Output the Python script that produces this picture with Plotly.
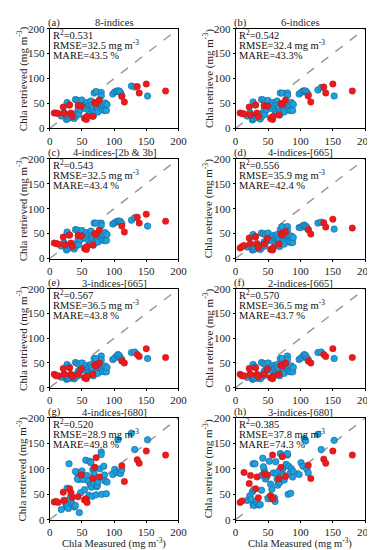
import plotly.graph_objects as go

W, H = 375, 550

# ---------------- data ----------------
blue_x = [18, 22, 24, 26, 27, 28, 29, 27, 30, 32, 34, 36, 38, 40, 42, 44, 45, 40, 43, 46,
          48, 50, 52, 54, 56, 58, 60, 61, 62, 63, 64, 65, 66, 67, 68, 69, 70, 72, 73, 74,
          75, 78, 80, 80, 81, 82, 84, 85, 86, 88, 89, 98, 101, 104, 106, 108, 110, 112, 127, 132,
          152]
red_x = [7, 10, 13, 21, 23, 31, 33, 35, 44, 49, 54, 56, 57, 58, 67, 70, 72, 77, 112, 116,
         136, 139, 150, 180]

blue_a = [25, 32, 28, 18, 22, 20, 25, 52, 47, 22, 27, 25, 20, 24, 30, 37, 28, 58, 56, 52,
          38, 57, 43, 47, 40, 52, 45, 35, 48, 29, 55, 46, 38, 42, 26, 71, 34, 74, 45, 38,
          33, 50, 72, 65, 42, 38, 48, 36, 51, 36, 48, 69, 73, 75, 75, 75, 72, 66, 85, 83,
          65]
red_a = [31, 31, 30, 43, 30, 47, 31, 24, 46, 45, 20, 22, 18, 24, 24, 52, 50, 57, 64, 53,
         84, 71, 89, 75]

blue_b = [25, 32, 28, 17, 22, 20, 26, 53, 47, 22, 27, 25, 19, 24, 30, 37, 28, 58, 57, 52,
          38, 56, 43, 47, 40, 52, 45, 35, 49, 29, 55, 46, 38, 42, 27, 71, 34, 71, 45, 38,
          33, 50, 71, 66, 42, 37, 48, 36, 52, 36, 48, 69, 72, 75, 75, 75, 72, 68, 77, 82,
          65]
red_b = [31, 30, 29, 43, 27, 47, 31, 24, 46, 45, 20, 22, 18, 24, 27, 50, 48, 57, 65, 53,
         83, 71, 89, 75]

blue_c = [25, 32, 28, 17, 22, 20, 26, 53, 47, 22, 27, 25, 19, 24, 30, 37, 28, 58, 57, 52,
          38, 56, 43, 47, 40, 52, 45, 35, 49, 29, 55, 46, 38, 42, 27, 71, 34, 71, 45, 38,
          33, 50, 71, 66, 42, 37, 48, 36, 52, 36, 48, 69, 72, 74, 75, 75, 74, 70, 77, 82,
          65]
red_c = [31, 30, 29, 43, 27, 47, 31, 24, 46, 45, 20, 22, 18, 24, 27, 50, 48, 57, 65, 53,
         83, 71, 89, 75]

blue_d = [23, 28, 24, 17, 20, 18, 22, 48, 43, 20, 25, 22, 18, 22, 27, 33, 25, 51, 50, 47,
          34, 51, 38, 42, 36, 46, 40, 31, 43, 26, 48, 41, 34, 37, 24, 58, 30, 64, 40, 34,
          29, 44, 64, 56, 38, 34, 42, 32, 45, 32, 42, 62, 62, 66, 67, 65, 62, 58, 71, 73,
          59]
red_d = [21, 24, 26, 41, 30, 44, 30, 22, 29, 40, 18, 19, 17, 22, 29, 50, 47, 54, 58, 49,
         72, 63, 79, 61]

blue_e = [21, 27, 25, 17, 19, 18, 21, 47, 42, 19, 24, 21, 18, 21, 26, 33, 25, 51, 49, 46,
          34, 50, 38, 41, 35, 45, 39, 30, 42, 26, 47, 40, 33, 36, 24, 59, 30, 59, 39, 33,
          29, 43, 64, 56, 37, 33, 41, 32, 44, 32, 41, 57, 60, 64, 67, 65, 60, 57, 71, 72,
          59]
red_e = [27, 24, 24, 39, 27, 40, 27, 22, 27, 38, 20, 21, 18, 23, 27, 46, 44, 50, 54, 50,
         67, 63, 79, 61]

blue_f = [21, 27, 25, 17, 19, 18, 21, 47, 42, 19, 24, 21, 18, 21, 26, 33, 25, 51, 49, 46,
          34, 50, 38, 41, 35, 45, 39, 30, 42, 26, 47, 40, 33, 36, 24, 59, 30, 59, 39, 33,
          29, 43, 64, 56, 37, 33, 41, 32, 44, 32, 41, 57, 60, 64, 67, 65, 60, 57, 71, 72,
          59]
red_f = [27, 24, 24, 39, 27, 40, 27, 22, 27, 38, 20, 21, 18, 23, 27, 46, 44, 50, 54, 50,
         67, 63, 79, 61]

blue_g = [20, 38, 34, 29, 25, 30, 22, 62, 110, 44, 33, 29, 25, 28, 93, 81, 79, 95, 80, 14,
          53, 96, 79, 59, 117, 87, 76, 48, 115, 68, 112, 64, 46, 98, 72, 90, 102, 49, 65, 67,
          74, 100, 133, 128, 50, 84, 105, 88, 76, 51, 74, 89, 99, 93, 157, 92, 91, 98, 170, 138,
          157]
red_g = [35, 36, 34, 54, 38, 61, 53, 44, 45, 88, 39, 41, 37, 34, 81, 103, 122, 84, 106, 75,
         118, 111, 135, 127]

blue_h = [38, 47, 40, 55, 30, 59, 28, 110, 110, 36, 32, 29, 30, 58, 121, 98, 92, 87, 104, 80,
          84, 41, 115, 70, 60, 92, 43, 36, 114, 92, 80, 68, 76, 96, 73, 130, 84, 126, 100, 88,
          78, 109, 127, 130, 50, 105, 91, 52, 100, 84, 95, 89, 112, 105, 159, 155, 99, 92, 168, 138,
          156]
red_h = [34, 37, 93, 71, 87, 61, 84, 43, 90, 88, 47, 41, 127, 41, 80, 103, 124, 85, 107, 81,
         119, 111, 135, 127]

letters = ["(a)", "(b)", "(c)", "(d)", "(e)", "(f)", "(g)", "(h)"]
titles = ["8-indices", "6-indices", "4-indices-[2b & 3b]", "4-indices-[665]",
          "3-indices-[665]", "2-indices-[665]", "4-indices-[680]", "3-indices-[680]"]
r2_vals = ["0.531", "0.542", "0.543", "0.556", "0.567", "0.570", "0.520", "0.385"]
rmse_vals = ["32.5", "32.4", "32.5", "35.9", "36.5", "36.5", "28.9", "37.8"]
mare_vals = ["43.5 %", "43.3%", "43.4 %", "42.4 %", "43.8 %", "43.7 %", "49.8 %", "74.3 %"]
axis_ticks = [0, 50, 100, 150, 200]

blue_sets = [blue_a, blue_b, blue_c, blue_d, blue_e, blue_f, blue_g, blue_h]
red_sets = [red_a, red_b, red_c, red_d, red_e, red_f, red_g, red_h]

# ---------------- layout geometry (pixels) ----------------
cols = [(40, 173), (232, 366)]
rows = [(15, 117), (148, 250), (281, 382), (413, 517)]

FONT = "Liberation Serif, Times New Roman, serif"
BLUE = "#1aa3e0"
BLUE_EDGE = "#1f5f8f"
RED = "#ea1b1f"

fig = go.Figure()
layout = dict(width=W, height=H, margin=dict(l=0, r=0, t=0, b=0),
              paper_bgcolor="white", plot_bgcolor="white", showlegend=False,
              font=dict(family=FONT, size=11, color="#222"))
annotations = []


def px(xp):
    return xp / W


def py(yp):
    return 1 - yp / H


for i in range(8):
    r, c = divmod(i, 2)
    x0, x1 = cols[c]
    y0, y1 = rows[r]
    n = i + 1
    xa = "x" if n == 1 else f"x{n}"
    ya = "y" if n == 1 else f"y{n}"
    xkey = "xaxis" if n == 1 else f"xaxis{n}"
    ykey = "yaxis" if n == 1 else f"yaxis{n}"

    fig.add_trace(go.Scatter(x=[0, 200], y=[0, 200], mode="lines",
                             line=dict(color="#9a9a9a", width=1.5, dash="dash"),
                             xaxis=xa, yaxis=ya, hoverinfo="skip"))
    fig.add_trace(go.Scatter(x=blue_x, y=blue_sets[i], mode="markers",
                             marker=dict(size=6.5, color=BLUE, line=dict(color=BLUE_EDGE, width=0.6)),
                             xaxis=xa, yaxis=ya))
    fig.add_trace(go.Scatter(x=red_x, y=red_sets[i], mode="markers",
                             marker=dict(size=6.5, color=RED, line=dict(color="#c01010", width=0.4)),
                             xaxis=xa, yaxis=ya))

    common = dict(range=[0, 200], tickvals=axis_ticks, showgrid=False, zeroline=False,
                  showline=True, linecolor="black", linewidth=1, mirror=True,
                  ticks="outside", ticklen=2, tickcolor="black",
                  tickfont=dict(family=FONT, size=11, color="#222"), fixedrange=True)
    layout[xkey] = dict(common, domain=[px(x0), px(x1)], anchor=ya)
    layout[ykey] = dict(common, domain=[py(y1), py(y0)], anchor=xa)

    # panel letter and title
    annotations.append(dict(text=letters[i], x=px(x0 - 3), y=py(y0 - 6), xref="paper", yref="paper",
                            xanchor="left", yanchor="middle", showarrow=False, borderpad=0,
                            font=dict(family=FONT, size=10.5, color="#222")))
    annotations.append(dict(text=titles[i], x=px((x0 + x1) / 2), y=py(y0 - 6), xref="paper", yref="paper",
                            xanchor="center", yanchor="middle", showarrow=False, borderpad=0,
                            font=dict(family=FONT, size=10.5, color="#222")))
    # stats
    stats = ["R<sup>2</sup>=" + r2_vals[i],
             f"RMSE={rmse_vals[i]} mg m<sup>-3</sup>",
             f"MARE={mare_vals[i]}"]
    stat_offsets = [6, 16, 27]
    for k, s in enumerate(stats):
        annotations.append(dict(text=s, x=px(x0 + 2), y=py(y0 + stat_offsets[k]), xref="paper", yref="paper",
                                xanchor="left", yanchor="middle", showarrow=False, borderpad=0,
                                font=dict(family=FONT, size=10.5, color="#111")))
    # y title
    ytxt = "Chla retrieved (mg m<sup>-3</sup>)" if c == 0 else "Chla retrieve (mg m<sup>-3</sup>)"
    annotations.append(dict(text=ytxt, x=px(x0 - 28), y=py((y0 + y1) / 2), xref="paper", yref="paper",
                            xanchor="center", yanchor="middle", textangle=-90, showarrow=False,
                            font=dict(family=FONT, size=11, color="#222")))
    if r == 3:
        annotations.append(dict(text="Chla Measured (mg m<sup>-3</sup>)", x=px((x0 + x1) / 2), y=py(549),
                                xref="paper", yref="paper", xanchor="center", yanchor="bottom",
                                showarrow=False, borderpad=0,
                                font=dict(family=FONT, size=10.5, color="#222")))

layout["annotations"] = annotations
fig.update_layout(**layout)
fig.write_html("out.html")
